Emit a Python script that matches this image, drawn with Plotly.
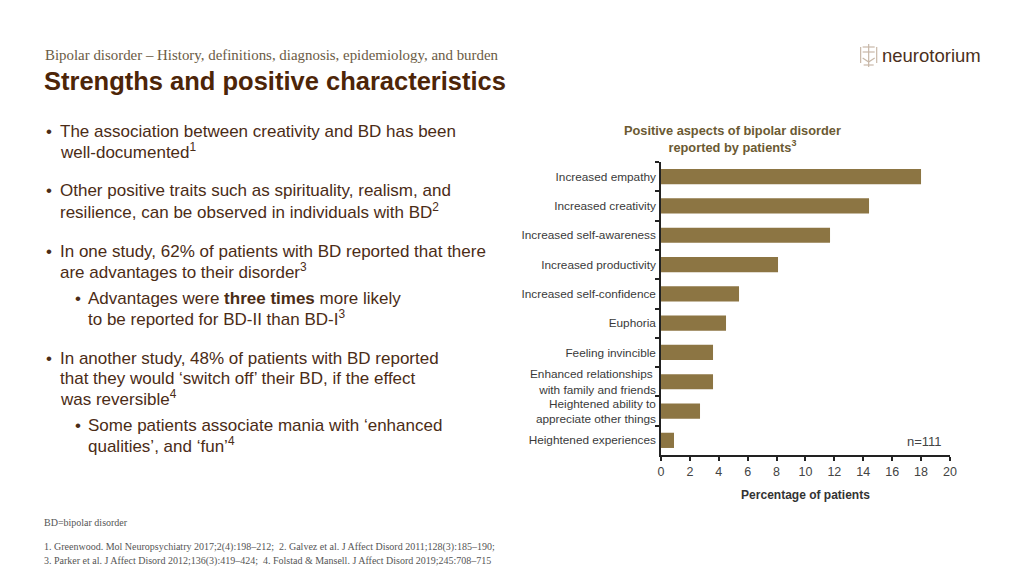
import plotly.graph_objects as go

categories = [
    "Increased empathy",
    "Increased creativity",
    "Increased self-awareness",
    "Increased productivity",
    "Increased self-confidence",
    "Euphoria",
    "Feeling invincible",
    "Enhanced relationships <br>with family and friends",
    "Heightened ability to<br>appreciate other things",
    "Heightened experiences",
]
percentages = [18.0, 14.4, 11.7, 8.1, 5.4, 4.5, 3.6, 3.6, 2.7, 0.9]
x_ticks = [0, 2, 4, 6, 8, 10, 12, 14, 16, 18, 20]

BAR = "#8C7543"
BROWN = "#4D2508"
TEXT = "#4B2C16"
AX = "#222222"

# page placement calibration (body margin / capture scale)
OFF_Y = 8
OFF_X, SX = 12.0, 0.987
W, H = 1008, 560
def px(x): return ((x - OFF_X) / SX) / W
def py(y): return 1 - (y - OFF_Y) / H

fig = go.Figure()
fig.add_trace(go.Bar(
    x=percentages, y=categories, orientation="h",
    marker=dict(color=BAR, line=dict(width=0)),
    width=0.52, hoverinfo="x+y",
))

fig.update_layout(
    width=W, height=H, margin=dict(l=0, r=0, t=0, b=0), autosize=False,
    paper_bgcolor="white", plot_bgcolor="white", showlegend=False,
    font=dict(family="Liberation Sans, Arial", color=TEXT),
    xaxis=dict(domain=[px(660), px(948)], range=[0, 20], tickvals=x_ticks,
               showgrid=False, zeroline=False, showline=True, linecolor=AX, linewidth=1.5,
               ticks="outside", ticklen=4, tickcolor=AX, tickwidth=1.5,
               tickfont=dict(size=12.5, color="#444444"),
               title=dict(text="<b>Percentage of patients</b>", font=dict(size=12, color="#333333"), standoff=13),
               fixedrange=True),
    yaxis=dict(domain=[py(455), py(162)], type="category", autorange="reversed",
               categoryorder="array", categoryarray=categories,
               showgrid=False, zeroline=False, showline=True, linecolor=AX, linewidth=1.5,
               ticks="outside", ticklen=4, tickcolor=AX, tickwidth=1.5, tickson="boundaries",
               tickfont=dict(size=11.8, color="#3a3a3a"), ticklabelstandoff=1,
               fixedrange=True),
)

ann = []
def txt(x, y, s, size, color=TEXT, family="Liberation Sans, Arial", xanchor="left", align="left"):
    if xanchor == "left":
        x -= 2
    elif xanchor == "right":
        x += 2
    ann.append(dict(x=px(x), y=py(y), xref="paper", yref="paper", text=s, showarrow=False,
                    xanchor=xanchor, yanchor="middle", align=align,
                    font=dict(size=size, color=color, family=family)))

# Header
txt(46, 55, "Bipolar disorder – History, definitions, diagnosis, epidemiology, and burden", 14.9,
    color="#6B5B45", family="Liberation Serif, Times New Roman")
txt(45, 81, "<b>Strengths and positive characteristics</b>", 25.5, color=BROWN)

# Logo
txt(880, 55, "neurotorium", 18.5, color="#4A3020")

# Bullets
fs = 17
main_lines = [
    (131, True, "The association between creativity and BD has been"),
    (151, False, "well-documented<sup>1</sup>"),
    (191, True, "Other positive traits such as spirituality, realism, and"),
    (211, False, "resilience, can be observed in individuals with BD<sup>2</sup>"),
    (251, True, "In one study, 62% of patients with BD reported that there"),
    (271, False, "are advantages to their disorder<sup>3</sup>"),
    (358, True, "In another study, 48% of patients with BD reported"),
    (378, False, "that they would ‘switch off’ their BD, if the effect"),
    (398, False, "was reversible<sup>4</sup>"),
]
sub_lines = [
    (298, True, "Advantages were <b>three times</b> more likely"),
    (318, False, "to be reported for BD-II than BD-I<sup>3</sup>"),
    (425, True, "Some patients associate mania with ‘enhanced"),
    (445, False, "qualities’, and ‘fun’<sup>4</sup>"),
]
for y, bullet, s in main_lines:
    if bullet:
        txt(47, y, "•", fs)
    txt(61, y, s, fs)
for y, bullet, s in sub_lines:
    if bullet:
        txt(76, y, "•", fs)
    txt(89, y, s, fs)

# Chart title
txt(731, 139, "<b>Positive aspects of bipolar disorder<br>reported by patients<sup>3</sup></b>", 12.8,
    color="#6B5A32", xanchor="center", align="center")
txt(940, 441, "n=111", 13, color="#444444", xanchor="right")

# Footnotes
ser = "Liberation Serif, Times New Roman"
txt(45, 522, "BD=bipolar disorder", 10, color="#555555", family=ser)
txt(45, 547, "1. Greenwood. Mol Neuropsychiatry 2017;2(4):198–212;  2. Galvez et al. J Affect Disord 2011;128(3):185–190;", 10, color="#555555", family=ser)
txt(45, 561, "3. Parker et al. J Affect Disord 2012;136(3):419–424;  4. Folstad & Mansell. J Affect Disord 2019;245:708–715", 10, color="#555555", family=ser)

fig.update_layout(annotations=ann)

# Logo icon (simple line drawing)
ic = "#C8B8A8"
shapes = []
def ln(x0, y0, x1, y1):
    shapes.append(dict(type="line", xref="paper", yref="paper", x0=px(x0), y0=py(y0), x1=px(x1), y1=py(y1),
                       line=dict(color=ic, width=1.2)))
ln(867, 44, 867, 67)
ln(861, 47, 873, 47)
ln(861, 52, 873, 52)
ln(859, 47, 859, 63)
ln(875, 47, 875, 63)
ln(861, 58, 867, 62)
ln(873, 58, 867, 62)
ln(862, 65, 872, 65)
fig.update_layout(shapes=shapes)

fig.write_html("out.html")
